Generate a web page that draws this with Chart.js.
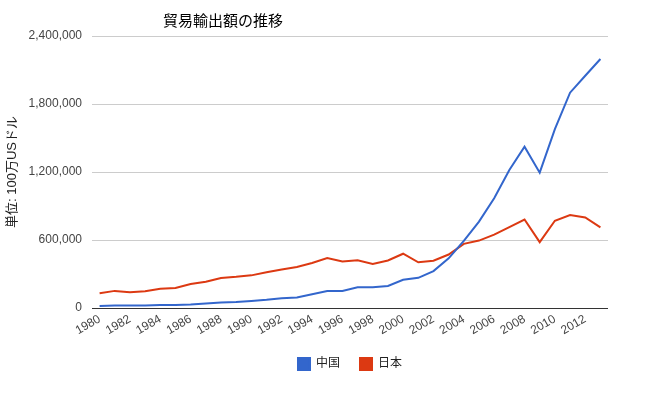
<!DOCTYPE html>
<html>
<head>
<meta charset="utf-8">
<script src="https://cdn.jsdelivr.net/npm/chart.js@4"></script>
<style>
  body { margin: 0; background: #fff; }
  #wrap { width: 659px; height: 393px; }
</style>
</head>
<body>
<div id="wrap"><canvas id="chart" width="659" height="393"></canvas></div>
<script>
const years = [];
for (let y = 1980; y <= 2013; y++) years.push(String(y));

// 単位: 100万USドル
const china = [
  18000, 22000, 22000, 22000, 26000, 27000, 31000, 39000, 48000, 53000,
  62000, 72000, 85000, 92000, 121000, 149000, 151000, 183000, 184000, 195000,
  249000, 266000, 326000, 438000, 593000, 762000, 969000, 1218000, 1423000, 1194000,
  1578000, 1900000, 2049000, 2197000,
];
const japan = [
  130000, 151000, 138000, 147000, 170000, 177000, 211000, 231000, 265000, 275000,
  288000, 315000, 340000, 362000, 397000, 440000, 411000, 421000, 388000, 419000,
  479000, 403000, 417000, 472000, 566000, 595000, 647000, 714000, 781000, 581000,
  770000, 820000, 799000, 712000,
];
const yTicks = [0, 600000, 1200000, 1800000, 2400000];

const FONT = "'Liberation Sans', Arial, 'Noto Sans CJK JP', sans-serif";

const titlePlugin = {
  id: 'topTitle',
  afterDraw: (chart) => {
    const ctx = chart.ctx;
    ctx.save();
    ctx.font = "15px 'Liberation Sans', 'Noto Sans CJK JP', sans-serif";
    ctx.fillStyle = '#000';
    ctx.textBaseline = 'middle';
    ctx.fillText('貿易輸出額の推移', 163, 22);
    ctx.restore();
  },
};

new Chart(document.getElementById('chart'), {
  type: 'line',
  data: {
    labels: years,
    datasets: [
      {
        label: '中国',
        data: china,
        borderColor: '#3366cc',
        backgroundColor: '#3366cc',
        borderWidth: 2,
        pointRadius: 0,
        tension: 0,
      },
      {
        label: '日本',
        data: japan,
        borderColor: '#dc3912',
        backgroundColor: '#dc3912',
        borderWidth: 2,
        pointRadius: 0,
        tension: 0,
      },
    ],
  },
  plugins: [titlePlugin],
  options: {
    responsive: false,
    animation: false,
    layout: { padding: { top: 36, right: 51, bottom: 13, left: 0 } },
    scales: {
      x: {
        offset: true,
        grid: { display: false, drawTicks: false },
        border: { display: false },
        afterFit: (scale) => {
          scale.height = 30;
        },
        ticks: {
          autoSkip: false,
          minRotation: 30,
          maxRotation: 30,
          padding: 4,
          color: '#444',
          font: { size: 12, family: FONT },
          callback: function (value, index) {
            const label = years[index];
            return Number(label) % 2 === 0 ? label : '';
          },
        },
      },
      y: {
        min: 0,
        max: 2400000,
        afterBuildTicks: (scale) => {
          scale.ticks = yTicks.map((v) => ({ value: v }));
        },
        afterFit: (scale) => {
          scale.width = 92;
        },
        grid: {
          drawTicks: false,
          color: (c) => (c.tick && c.tick.value === 0 ? '#333' : '#ccc'),
        },
        border: { display: false },
        ticks: {
          padding: 10,
          color: '#444',
          font: { size: 12, family: FONT },
          callback: (v) => v.toLocaleString('en-US'),
        },
        title: {
          display: true,
          text: '単位: 100万USドル',
          color: '#222',
          font: { size: 13, family: FONT },
          padding: { top: 5, bottom: 0 },
        },
      },
    },
    plugins: {
      legend: {
        position: 'bottom',
        fullSize: false,
        labels: {
          boxWidth: 12,
          boxHeight: 12,
          padding: 20,
          color: '#222',
          font: { size: 12, family: FONT },
        },
      },
      tooltip: { enabled: false },
    },
  },
});
</script>
</body>
</html>
